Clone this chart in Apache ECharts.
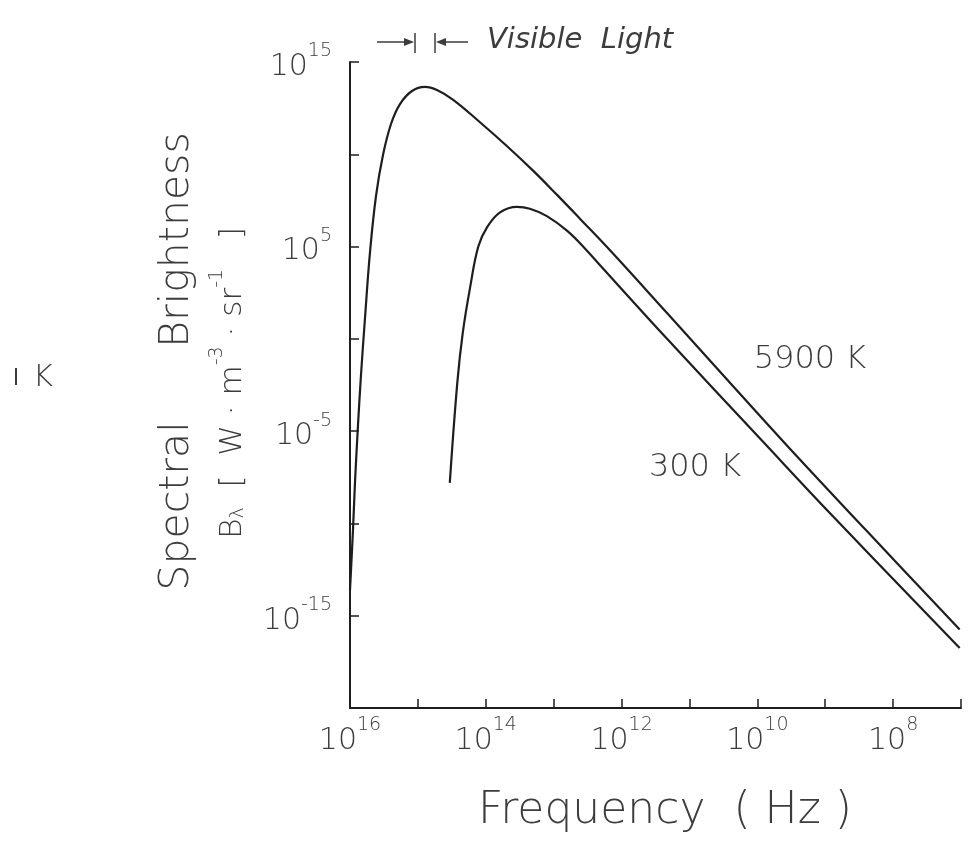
<!DOCTYPE html>
<html>
<head>
<meta charset="utf-8">
<title>Spectral Brightness vs Frequency</title>
<script src="https://cdn.jsdelivr.net/npm/echarts@6.0.0/dist/echarts.min.js"></script>
<style>
  html, body { margin: 0; padding: 0; background: #fff; }
  #chart { width: 971px; height: 844px; }
</style>
</head>
<body>
<div id="chart"></div>
<script>
// values are log10 exponents (x: frequency in Hz, y: B_lambda)
const freq5900 = [16.0, 15.956, 15.926, 15.882, 15.838, 15.779, 15.705, 15.617, 15.514, 15.396, 15.264, 15.087, 14.895, 14.719, 14.48, 14.09, 13.69, 13.3, 12.95, 12.61, 12.17, 11.33, 10.36, 9.37, 8.39, 7.02]
const bright5900 = [-13.6, -10.35, -7.75, -4.66, -1.96, 1.13, 4.71, 7.74, 9.96, 11.64, 12.72, 13.43, 13.65, 13.48, 12.95, 11.75, 10.45, 9.1, 7.8, 6.5, 4.8, 1.4, -2.55, -6.55, -10.4, -15.75]

const freq300 = [14.53, 14.42, 14.34, 14.23, 14.11, 13.98, 13.79, 13.54, 13.35, 13.1, 12.8, 12.54, 12.32, 11.33, 9.96, 8.89, 7.02]
const bright300 = [-7.8, -2.4, 0.3, 2.8, 5.0, 6.05, 6.85, 7.15, 7.05, 6.65, 5.85, 4.9, 4.0, 0.0, -5.4, -9.6, -16.75]

const xLabelExps = [16, 14, 12, 10, 8]
const yLabelExps = [15, 5, -5, -15]

const ink = '#1e1e1e'
const textInk = '#3c3c3c'
const font = "'DejaVu Sans', sans-serif"

const toPairs = (xs, ys) => xs.map((x, i) => [x, ys[i]])

const powerRich = {
  b: { fontFamily: font, fontWeight: 300, fontSize: 30, color: textInk, lineHeight: 40, verticalAlign: 'bottom' },
  s: { fontFamily: font, fontWeight: 300, fontSize: 19, color: textInk, verticalAlign: 'top' },
}
const powerLabel = (list) => (v) => (list.includes(v) ? '{b|10}{s|' + v + '}' : '')

// graphic text wants fill and a font shorthand
const unitRich = {
  b: { font: '300 31px ' + font, fill: textInk, lineHeight: 40, verticalAlign: 'bottom' },
  sub: { font: '300 19px ' + font, fill: textInk, lineHeight: 19, verticalAlign: 'bottom' },
  sup: { font: '300 19px ' + font, fill: textInk, lineHeight: 19, verticalAlign: 'top' },
}

const lineSeries = (name, xs, ys) => ({
  name,
  type: 'line',
  data: toPairs(xs, ys),
  showSymbol: false,
  smooth: 0.4,
  lineStyle: { color: ink, width: 2.2 },
  silent: true,
})

const chart = echarts.init(document.getElementById('chart'))

chart.setOption({
  animation: false,
  backgroundColor: '#fff',
  grid: { left: 350, right: 10, top: 62, bottom: 136 },
  xAxis: {
    type: 'value',
    min: 7,
    max: 16,
    interval: 1,
    inverse: true,
    axisLine: { onZero: false, lineStyle: { color: ink, width: 2 } },
    axisTick: { inside: true, length: 9, lineStyle: { color: ink, width: 1.5 } },
    axisLabel: { margin: 8, formatter: powerLabel(xLabelExps), rich: powerRich },
    splitLine: { show: false },
  },
  yAxis: {
    type: 'value',
    min: -20,
    max: 15,
    interval: 5,
    axisLine: { show: true, onZero: false, lineStyle: { color: ink, width: 2 } },
    axisTick: { show: true, inside: true, length: 9, lineStyle: { color: ink, width: 1.5 } },
    axisLabel: { margin: 18, formatter: powerLabel(yLabelExps), rich: powerRich },
    splitLine: { show: false },
  },
  series: [
    lineSeries('5900 K', freq5900, bright5900),
    lineSeries('300 K', freq300, bright300),
  ],
  graphic: [
    // y axis title, two lines
    {
      type: 'text', x: 177, y: 506, rotation: Math.PI / 2,
      style: { text: 'Spectral', font: '300 41px ' + font, fill: textInk, align: 'center', verticalAlign: 'middle' },
    },
    {
      type: 'text', x: 177, y: 240, rotation: Math.PI / 2,
      style: { text: 'Brightness', font: '300 41px ' + font, fill: textInk, align: 'center', verticalAlign: 'middle' },
    },
    {
      type: 'text', x: 228, y: 383, rotation: Math.PI / 2,
      style: {
        text: '{b|B}{sub|λ}{b|  [  W · m}{sup|-3}{b| · sr}{sup|-1}{b|   ]}',
        rich: unitRich, align: 'center', verticalAlign: 'middle',
      },
    },
    // x axis title
    {
      type: 'text', x: 665, y: 812,
      style: { text: 'Frequency  ( Hz )', font: '300 44px ' + font, fill: textInk, align: 'center', verticalAlign: 'middle' },
    },
    // visible light marker
    { type: 'line', shape: { x1: 377, y1: 42, x2: 412, y2: 42 }, style: { stroke: textInk, lineWidth: 1.5 } },
    { type: 'polygon', shape: { points: [[414, 42], [404, 38], [404, 46]] }, style: { fill: textInk } },
    { type: 'line', shape: { x1: 415, y1: 33, x2: 415, y2: 53 }, style: { stroke: textInk, lineWidth: 1.5 } },
    { type: 'line', shape: { x1: 435, y1: 33, x2: 435, y2: 53 }, style: { stroke: textInk, lineWidth: 1.5 } },
    { type: 'polygon', shape: { points: [[436, 42], [446, 38], [446, 46]] }, style: { fill: textInk } },
    { type: 'line', shape: { x1: 438, y1: 42, x2: 468, y2: 42 }, style: { stroke: textInk, lineWidth: 1.5 } },
    {
      type: 'text', x: 487, y: 40,
      style: { text: 'Visible  Light', font: 'italic 300 29px ' + font, fill: textInk, align: 'left', verticalAlign: 'middle' },
    },
    // curve labels
    {
      type: 'text', x: 810, y: 360,
      style: { text: '5900 K', font: '300 32px ' + font, fill: textInk, align: 'center', verticalAlign: 'middle' },
    },
    {
      type: 'text', x: 695, y: 468,
      style: { text: '300 K', font: '300 32px ' + font, fill: textInk, align: 'center', verticalAlign: 'middle' },
    },
    // clipped fragment at the left edge
    { type: 'line', shape: { x1: 16, y1: 368, x2: 16, y2: 385 }, style: { stroke: textInk, lineWidth: 2 } },
    {
      type: 'text', x: 43, y: 378,
      style: { text: 'K', font: '300 31px ' + font, fill: textInk, align: 'center', verticalAlign: 'middle' },
    },
  ],
})
</script>
</body>
</html>
